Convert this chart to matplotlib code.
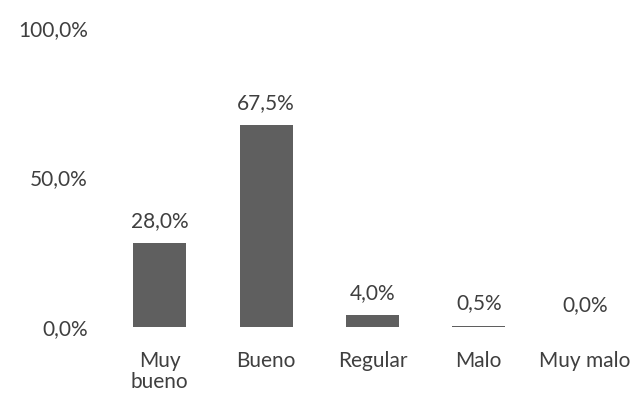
import matplotlib
matplotlib.use("Agg")
import matplotlib.pyplot as plt

categories = ["Muy\nbueno", "Bueno", "Regular", "Malo", "Muy malo"]
values = [28.0, 67.5, 4.0, 0.5, 0.0]
yticks = [0, 50, 100]

plt.rcParams["font.family"] = ["Lato", "DejaVu Sans"]

W, H = 634, 400
fig = plt.figure(figsize=(W / 100, H / 100), dpi=100)
ax = fig.add_axes([96 / W, 73 / H, (633 - 96) / W, (372 - 73) / H])

bar_color = "#5f5f5f"
text_color = "#3f3f3f"
fs = 15

x = list(range(len(categories)))
ax.bar(x, values, width=0.5, color=bar_color)

for xi, v in zip(x, values):
    ax.annotate(f"{v:.1f}%".replace(".", ","), xy=(xi, v), xytext=(0, 16),
                textcoords="offset points", ha="center", va="center",
                fontsize=fs, color=text_color)

ax.set_xlim(-0.6, 4.45)
ax.set_ylim(0, 100)
ax.set_xticks(x)
ax.set_xticklabels(categories, fontsize=fs, color=text_color, linespacing=1.1)
ax.set_yticks(yticks)
ax.set_yticklabels([f"{t:.1f}%".replace(".", ",") for t in yticks],
                   fontsize=fs, color=text_color)
ax.tick_params(axis="x", length=0, pad=17)
ax.tick_params(axis="y", length=0, pad=6)
for s in ax.spines.values():
    s.set_visible(False)

fig.savefig("out.png", dpi=100, facecolor="white")
